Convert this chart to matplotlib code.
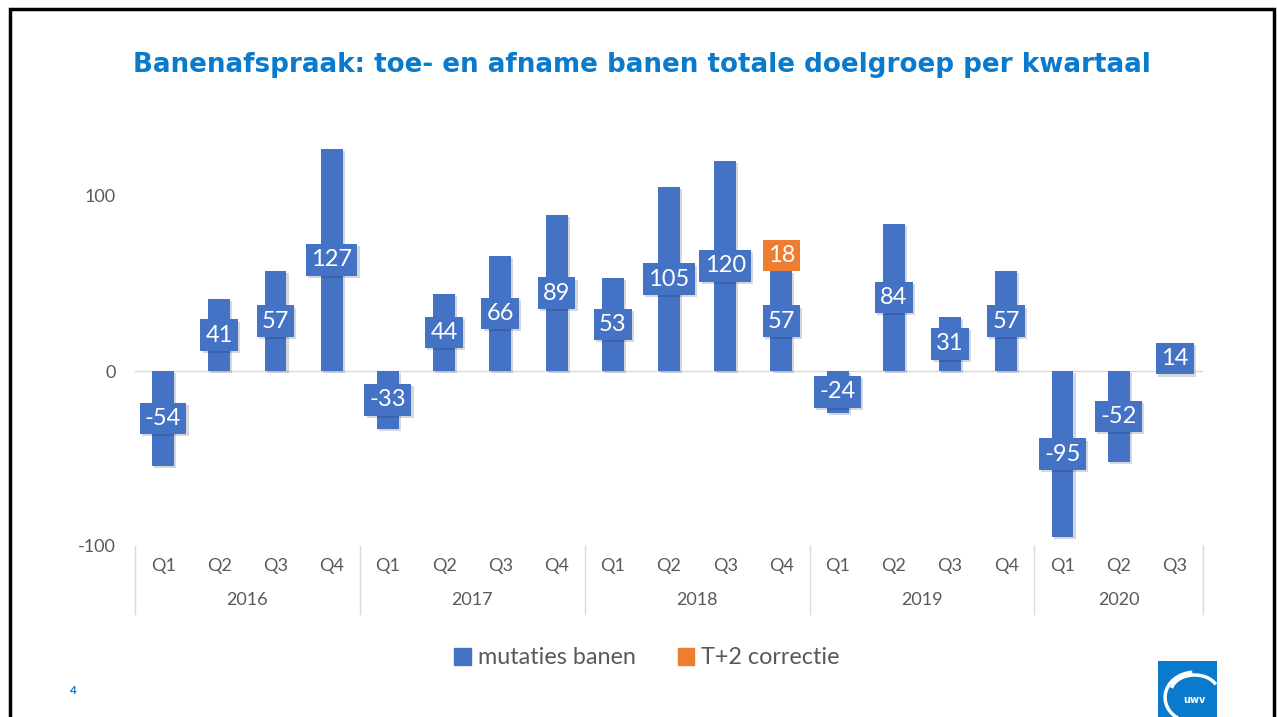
import matplotlib
matplotlib.use('Agg')
import matplotlib.pyplot as plt
from matplotlib.patches import Rectangle, Arc, Patch
import matplotlib.patheffects as pe

# ---- data ----
years = ['2016', '2017', '2018', '2019', '2020']
quarters_per_year = [4, 4, 4, 4, 3]
quarter_labels = ['Q1', 'Q2', 'Q3', 'Q4'] * 4 + ['Q1', 'Q2', 'Q3']
mutaties = [-54, 41, 57, 127, -33, 44, 66, 89, 53, 105, 120, 57, -24, 84, 31, 57, -95, -52, 14]
correctie = [0, 0, 0, 0, 0, 0, 0, 0, 0, 0, 0, 18, 0, 0, 0, 0, 0, 0, 0]
series_names = ['mutaties banen', 'T+2 correctie']
title = 'Banenafspraak: toe- en afname banen totale doelgroep per kwartaal'
yticks = [-100, 0, 100]

BLUE = '#4472C4'
ORANGE = '#ED7D31'
GREY = '#595959'
TITLE_BLUE = '#0A7ACD'
FONT = ['Lato', 'DejaVu Sans']

W, H = 1277, 717
fig = plt.figure(figsize=(W / 100, H / 100), dpi=100)
ax = fig.add_axes([135 / W, 1 - 546 / H, (1203 - 135) / W, (546 - 108.5) / H])

x = list(range(len(mutaties)))
shadow = [pe.SimplePatchShadow(offset=(1.5, -1.5), alpha=0.18), pe.Normal()]

bars = ax.bar(x, mutaties, width=0.39, color=BLUE, zorder=2)
for b in bars:
    b.set_path_effects(shadow)
bottoms = [m if m > 0 else 0 for m in mutaties]
cbars = ax.bar(x, correctie, bottom=bottoms, width=0.39, color=ORANGE, zorder=2)

# data labels
for i, v in enumerate(mutaties):
    t = ax.text(i, v / 2, str(v), ha='center', va='center', color='white',
                fontsize=17, family=FONT, zorder=5,
                bbox=dict(boxstyle='square,pad=0.22', fc=BLUE, ec='none'))
    t.get_bbox_patch().set_path_effects(shadow)
for i, c in enumerate(correctie):
    if c:
        t = ax.text(i, bottoms[i] + c / 2, str(c), ha='center', va='center', color='white',
                    fontsize=17, family=FONT, zorder=5,
                    bbox=dict(boxstyle='square,pad=0.22', fc=ORANGE, ec='none'))

ax.set_xlim(-0.5, len(mutaties) - 0.5)
ax.set_ylim(-100, 150)
for s in ax.spines.values():
    s.set_visible(False)
ax.axhline(0, color='#D9D9D9', lw=1, zorder=1)

ax.set_yticks(yticks)
ax.set_yticklabels([str(t) for t in yticks], color=GREY, fontsize=13, family=FONT)
ax.tick_params(axis='y', length=0, pad=14)
ax.set_xticks(x)
ax.set_xticklabels(quarter_labels, color=GREY, fontsize=13, family=FONT)
ax.tick_params(axis='x', length=0, pad=9)

# year group labels and separators
xt = ax.get_xaxis_transform()
start = 0
bounds = [-0.5]
for yr, n in zip(years, quarters_per_year):
    center = start + (n - 1) / 2
    ax.annotate(yr, xy=(center, 0), xycoords=xt, xytext=(0, -54 * 0.72),
                textcoords='offset points', ha='center', va='center',
                color=GREY, fontsize=13, family=FONT)
    start += n
    bounds.append(start - 0.5)
for bnd in bounds:
    ax.plot([bnd, bnd], [0, -(614 - 546) / 437.5], transform=xt, color='#D9D9D9',
            lw=1, clip_on=False)

# title
fig.text(642 / W, 1 - 64.5 / H, title, ha='center', va='center', fontsize=18.8,
         fontweight='bold', color=TITLE_BLUE, family='DejaVu Sans')

# legend
handles = [Patch(color=BLUE, label=series_names[0]), Patch(color=ORANGE, label=series_names[1])]
leg = fig.legend(handles=handles, loc='center', bbox_to_anchor=(647 / W, 1 - 658 / H),
                 ncol=2, frameon=False, handlelength=0.72, handleheight=0.72,
                 handletextpad=0.3, columnspacing=1.8, prop={'family': FONT, 'size': 16.8})
for t in leg.get_texts():
    t.set_color(GREY)

# page number
fig.text(72 / W, 1 - 691 / H, '4', color=TITLE_BLUE, fontsize=8.5, ha='center', va='center',
         family=FONT, fontweight='bold')

# logo
lax = fig.add_axes([1158 / W, 0, 59 / W, 56 / H])
lax.set_facecolor(TITLE_BLUE)
lax.set_xticks([])
lax.set_yticks([])
for s in lax.spines.values():
    s.set_visible(False)
lax.set_xlim(0, 1)
lax.set_ylim(0, 1)
lax.add_patch(Arc((0.62, 0.35), 1.0, 0.9, theta1=95, theta2=250, color='white', lw=2.5))
lax.add_patch(Arc((0.62, 0.45), 0.8, 0.6, theta1=20, theta2=170, color='white', lw=2.5))
lax.text(0.62, 0.3, 'uwv', color='white', fontsize=7, fontweight='bold', ha='center',
         va='center', family='DejaVu Sans')

# slide border
fig.add_artist(Rectangle((10 / W, -0.05), (1274 - 10) / W, 1.05 - 9 / H,
                         transform=fig.transFigure, fill=False, ec='black', lw=2.5))

fig.savefig('out.png', dpi=100)
